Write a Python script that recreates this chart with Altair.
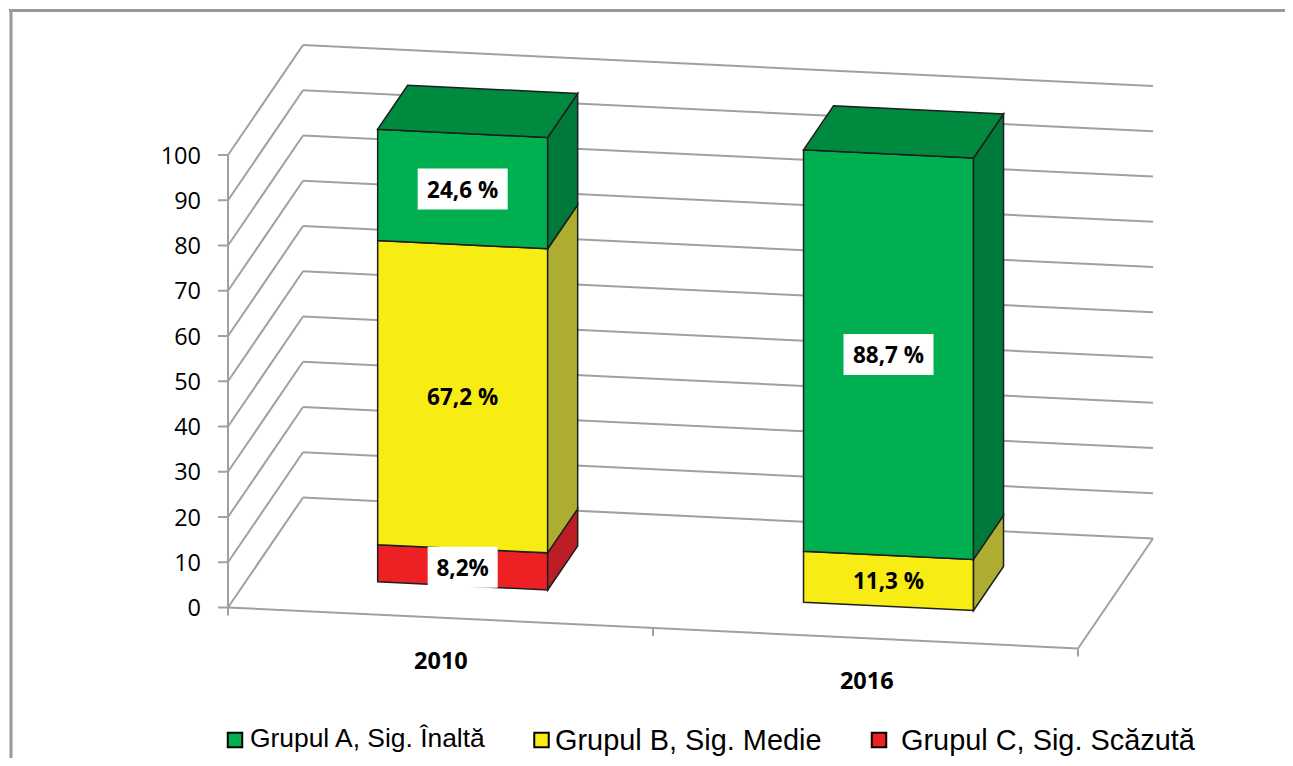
import altair as alt
import pandas as pd

# ---- values ----
years = ["2010", "2016"]
groups = ["Grupul A, Sig. Înaltă", "Grupul B, Sig. Medie", "Grupul C, Sig. Scăzută"]
grupul_c = [8.2, 0.0]
grupul_b = [67.2, 11.3]
grupul_a = [24.6, 88.7]
label_c = ["8,2%", ""]
label_b = ["67,2 %", "11,3 %"]
label_a = ["24,6 %", "88,7 %"]
y_ticks = [0, 10, 20, 30, 40, 50, 60, 70, 80, 90, 100]

front = {"a": "#00B050", "b": "#F7EC13", "c": "#ED2024"}
side = {"a": "#007A3B", "b": "#ADAD32", "c": "#BC1E28"}
top_col = "#008A40"
grid = "#A0A0A0"
edge = "#1E1E1E"

# ---- oblique projection of the 3-D box: (along, value, depth) -> page units
O = (228.0, 607.5)
WX, WY = 850.0, 41.0
DX, DY = 75.0, -110.0
PER_UNIT = 4.525


def P(a, v, d):
    return (O[0] + a * WX + d * DX, O[1] + a * WY + d * DY - v * PER_UNIT)


BAR_W = 0.2
D0, D1 = 0.29, 0.69
centers = [0.2505, 0.7515]

polys = []


def add_poly(name, pts, color):
    xs = sorted({round(p[0], 3) for p in pts})
    n = len(pts)
    for x in xs:
        ys = []
        for i in range(n):
            (x0, y0), (x1, y1) = pts[i], pts[(i + 1) % n]
            lo, hi = min(x0, x1), max(x0, x1)
            if lo - 1e-3 <= x <= hi + 1e-3:
                if abs(x1 - x0) < 1e-3:
                    ys += [y0, y1]
                else:
                    ys.append(y0 + (x - x0) * (y1 - y0) / (x1 - x0))
        polys.append({"poly": name, "x": x, "y": min(ys), "y2": max(ys), "fill": color})


labels = []
boxes = []
for i, year in enumerate(years):
    a0 = centers[i] - BAR_W / 2
    a1 = centers[i] + BAR_W / 2
    base = 0.0
    for key, vals, labs in (("c", grupul_c, label_c), ("b", grupul_b, label_b), ("a", grupul_a, label_a)):
        v = vals[i]
        if v <= 0:
            continue
        t = base + v
        add_poly(f"f{i}{key}", [P(a0, base, D0), P(a1, base, D0), P(a1, t, D0), P(a0, t, D0)], front[key])
        add_poly(f"s{i}{key}", [P(a1, base, D0), P(a1, base, D1), P(a1, t, D1), P(a1, t, D0)], side[key])
        cx, cy = P(centers[i], base + v / 2, D0)
        labels.append({"x": cx, "y": cy + 1.5, "t": labs[i]})
        if labs[i] in ("8,2%", "24,6 %", "88,7 %"):
            hw = 35 if labs[i] == "8,2%" else 45
            boxes.append({"x": cx - hw, "x2": cx + hw, "y": cy - 20.5, "y2": cy + 20.5})
        base = t
    add_poly(f"t{i}", [P(a0, 100, D0), P(a1, 100, D0), P(a1, 100, D1), P(a0, 100, D1)], top_col)

# grid lines
rules = []
for v in y_ticks:
    for p, q in ((P(0, v, 0), P(0, v, 1)), (P(0, v, 1), P(1, v, 1))):
        rules.append({"x": p[0], "y": p[1], "x2": q[0], "y2": q[1]})
for p, q in ((P(0, 0, 0), P(1, 0, 0)), (P(1, 0, 0), P(1, 0, 1)), (P(0, 0, 0), P(0, 100, 0))):
    rules.append({"x": p[0], "y": p[1], "x2": q[0], "y2": q[1]})
for a in (0, 0.5, 1):
    p = P(a, 0, 0)
    rules.append({"x": p[0], "y": p[1], "x2": p[0], "y2": p[1] + 8})
tick_text = []
for v in y_ticks:
    p = P(0, v, 0)
    rules.append({"x": p[0] - 10, "y": p[1], "x2": p[0], "y2": p[1]})
    tick_text.append({"x": p[0] - 27, "y": p[1] + 1.5, "t": str(v)})

year_text = []
for i, year in enumerate(years):
    p = P(centers[i], 0, 0)
    year_text.append({"x": p[0], "y": p[1] + 44, "t": year})

legend_sq = [
    {"x": 235, "y": 740, "c": front["a"]},
    {"x": 541.5, "y": 740, "c": front["b"]},
    {"x": 879, "y": 740, "c": front["c"]},
]
legend_tx = [
    {"x": 250, "y": 746.5, "t": groups[0], "s": 26.4},
    {"x": 555, "y": 750, "t": groups[1], "s": 28.9},
    {"x": 901, "y": 750, "t": groups[2], "s": 28.9},
]
frame = [
    {"x": 9, "x2": 1285, "y": 10.5, "y2": 10.5},
    {"x": 11, "x2": 11, "y": 9, "y2": 758},
]

X = alt.X("x:Q", scale=alt.Scale(domain=[8, 1285], nice=False, zero=False), axis=None)
Y = alt.Y("y:Q", scale=alt.Scale(domain=[758, 8], nice=False, zero=False), axis=None, stack=None)

base_frame = alt.Chart(pd.DataFrame(frame)).mark_rule(color="#999999", strokeWidth=3).encode(
    x=X, y=Y, x2="x2:Q", y2="y2:Q")
grid_layer = alt.Chart(pd.DataFrame(rules)).mark_rule(color=grid, strokeWidth=2).encode(
    x=X, y=Y, x2="x2:Q", y2="y2:Q")
faces = alt.Chart(pd.DataFrame(polys)).mark_area(stroke=edge, strokeWidth=1.5, opacity=1, interpolate="linear").encode(
    x=X, y=Y, y2="y2:Q",
    detail="poly:N",
    fill=alt.Fill("fill:N", scale=None),
)
box_layer = alt.Chart(pd.DataFrame(boxes)).mark_rect(color="white").encode(
    x=X, y=Y, x2="x2:Q", y2="y2:Q")
bar_text = alt.Chart(pd.DataFrame(labels)).mark_text(
    font="Open Sans", fontWeight="bold", fontSize=22.5, color="black", baseline="middle", align="center"
).encode(x=X, y=Y, text="t:N")
ticks = alt.Chart(pd.DataFrame(tick_text)).mark_text(
    font="Open Sans", fontSize=23.5, color="black", baseline="middle", align="right"
).encode(x=X, y=Y, text="t:N")
years_layer = alt.Chart(pd.DataFrame(year_text)).mark_text(
    font="Open Sans", fontWeight="bold", fontSize=23.5, color="black", baseline="middle", align="center"
).encode(x=X, y=Y, text="t:N")
leg_sq = alt.Chart(pd.DataFrame(legend_sq)).mark_square(size=210, opacity=1, stroke="black", strokeWidth=2).encode(
    x=X, y=Y, fill=alt.Fill("c:N", scale=None))
leg_tx = alt.Chart(pd.DataFrame(legend_tx)).mark_text(
    font="Liberation Sans", color="black", baseline="alphabetic", align="left"
).encode(x=X, y=Y, text="t:N", size=alt.Size("s:Q", scale=None))

chart = alt.layer(
    base_frame, grid_layer, faces, box_layer, bar_text, ticks, years_layer, leg_sq, leg_tx
).properties(
    width=1277, height=750, padding=0, background="white",
    autosize=alt.AutoSizeParams(type="none"),
).configure_view(stroke=None)

chart.save("out.html", embed_options={"renderer": "svg", "actions": False})
